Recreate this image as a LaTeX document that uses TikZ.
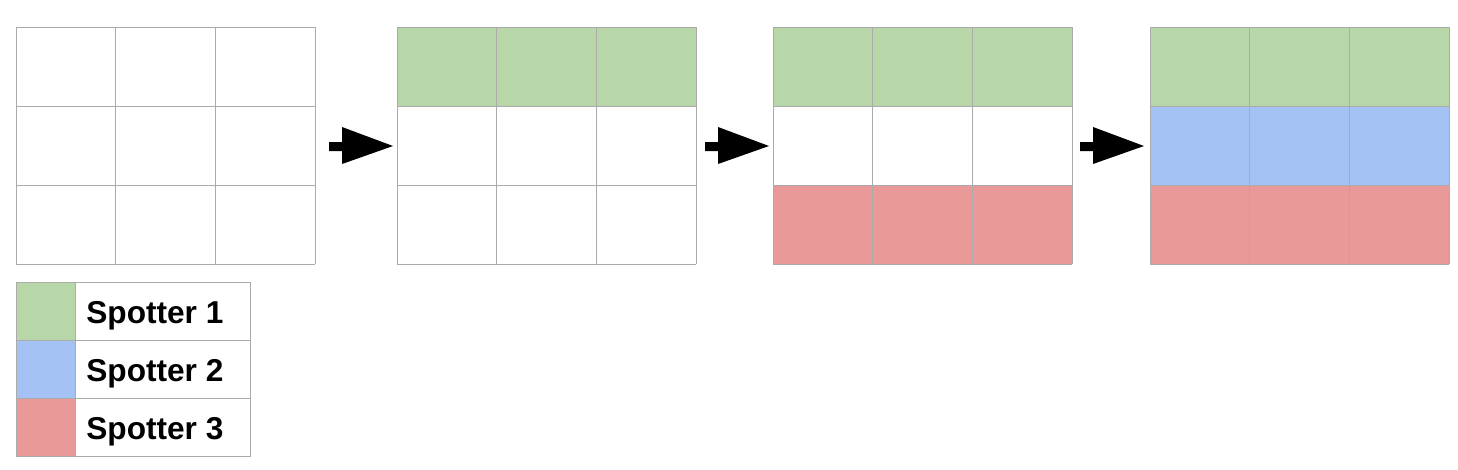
\documentclass[tikz,border=0pt]{standalone}
\usepackage{fontspec}
\setmainfont{Liberation Sans}
\definecolor{spotgreen}{HTML}{B7D7A8}
\definecolor{spotblue}{HTML}{A4C2F4}
\definecolor{spotred}{HTML}{EA9999}
\definecolor{cellline}{HTML}{ABABAB}
\tikzset{
  gridline/.style={draw=cellline, line width=0.55pt},
  legtext/.style={anchor=base west, font=\fontsize{18}{22}\selectfont\bfseries, inner sep=0pt}
}
\begin{document}
\begin{tikzpicture}[x=0.02cm,y=-0.02cm]
\useasboundingbox (0,0) rectangle (1458,470);

% coloured rows
\fill[spotgreen] (397,27) rectangle (696,106);
\fill[spotgreen] (773,27) rectangle (1072,106);
\fill[spotred] (773,185) rectangle (1072,264);
\fill[spotgreen] (1150,27) rectangle (1449,106);
\fill[spotblue] (1150,106) rectangle (1449,185);
\fill[spotred] (1150,185) rectangle (1449,264);

% the four 3x3 grids
\foreach \gx in {16,397,773,1150} {
  \foreach \i in {0,1,2,3}
    \draw[gridline] ({\gx+\i*99.67},27) -- ({\gx+\i*99.67},264);
  \foreach \j in {0,1,2,3}
    \draw[gridline] (\gx,{27+\j*79}) -- ({\gx+299},{27+\j*79});
}

% block arrows
\foreach \ax in {329,705,1080}
  \fill[black] (\ax,142) -- ({\ax+13},142) -- ({\ax+13},127) -- ({\ax+64},146)
    -- ({\ax+13},164) -- ({\ax+13},151) -- (\ax,151) -- cycle;

% legend
\fill[spotgreen] (16,282) rectangle (75,340);
\fill[spotblue] (16,340) rectangle (75,398);
\fill[spotred] (16,398) rectangle (75,456);
\draw[gridline] (16,282) rectangle (250,456);
\draw[gridline] (75,282) -- (75,456);
\draw[gridline] (16,340) -- (250,340);
\draw[gridline] (16,398) -- (250,398);
\node[legtext] (leg1) at (86,323) {Spotter 1};
\node[legtext] (leg2) at (86,381) {Spotter 2};
\node[legtext] (leg3) at (86,439) {Spotter 3};
\end{tikzpicture}
\end{document}
